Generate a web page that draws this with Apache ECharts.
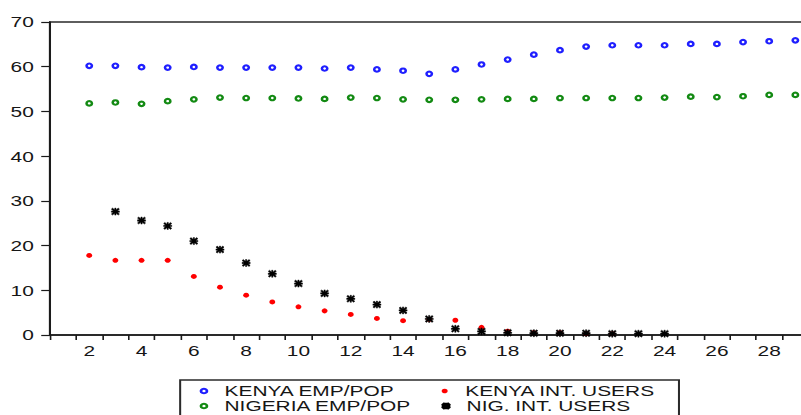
<!DOCTYPE html>
<html><head><meta charset="utf-8">
<script src="https://cdn.jsdelivr.net/npm/echarts@6/dist/echarts.min.js"></script>
<style>
html,body{margin:0;padding:0;background:#fff;overflow:hidden;width:801px;height:415px}
#wrap{width:801px;height:415px;overflow:hidden;position:relative}
#chart{width:594px;height:415px;transform:scaleX(1.3485);transform-origin:0 0}
</style></head><body><div id="wrap"><div id="chart"></div></div>
<script>
const categories = ['1','2','3','4','5','6','7','8','9','10','11','12','13','14','15','16','17','18','19','20','21','22','23','24','25','26','27','28','29'];
const yTicks = [0, 10, 20, 30, 40, 50, 60, 70];
const seriesNames = ['KENYA EMP/POP', 'NIGERIA EMP/POP', 'KENYA INT. USERS', 'NIG. INT. USERS'];
const kenyaEmpPop = [null, 60.2, 60.2, 59.9, 59.8, 59.95, 59.8, 59.8, 59.8, 59.8, 59.6, 59.8, 59.4, 59.1, 58.4, 59.4, 60.5, 61.6, 62.7, 63.7, 64.5, 64.8, 64.8, 64.8, 65.1, 65.1, 65.5, 65.7, 65.9];
const nigeriaEmpPop = [null, 51.8, 52.0, 51.7, 52.3, 52.7, 53.1, 53.0, 53.0, 52.9, 52.8, 53.1, 53.0, 52.7, 52.6, 52.6, 52.7, 52.8, 52.8, 53.0, 53.0, 53.0, 53.0, 53.1, 53.3, 53.2, 53.4, 53.7, 53.7];
const kenyaIntUsers = [null, 17.8, 16.7, 16.7, 16.7, 13.1, 10.7, 8.9, 7.4, 6.3, 5.4, 4.6, 3.7, 3.2, 3.5, 3.3, 1.7, 0.85, 0.5, 0.5, 0.3, 0.3, null, null, null, null, null, null, null];
const nigIntUsers = [null, null, 27.6, 25.6, 24.4, 21.0, 19.1, 16.1, 13.7, 11.5, 9.3, 8.1, 6.8, 5.5, 3.6, 1.4, 0.8, 0.5, 0.4, 0.4, 0.4, 0.3, 0.3, 0.3, null, null, null, null, null];

const FONT = '"Liberation Sans", Arial, sans-serif';
const TXT = '#161616';
const asterisk = 'path://M0,4L10,4L10,6L0,6Z M0,1.5L1.5,0L10,8.5L8.5,10Z M8.5,0L10,1.5L1.5,10L0,8.5Z M4.2,0L5.8,0L5.8,10L4.2,10Z';

const styles = [
  {color: '#1f1fff', symbol: 'emptyCircle', size: [4, 4.5], border: 1.2},
  {color: '#138a13', symbol: 'emptyCircle', size: [4, 4.5], border: 1.3},
  {color: '#ff0000', symbol: 'circle', size: [4.4, 5], border: 0},
  {color: '#000000', symbol: asterisk, size: [6, 7], border: 0.4}
];
const dataSets = [kenyaEmpPop, nigeriaEmpPop, kenyaIntUsers, nigIntUsers];

function legendFor(i, left, top) {
  return {
    show: true, left: left, top: top, padding: 0, orient: 'horizontal',
    itemWidth: 4.5, itemHeight: 4.5, itemGap: 0, selectedMode: false,
    data: [{name: seriesNames[i], icon: styles[i].symbol}],
    textStyle: {fontFamily: FONT, fontSize: 15.5, lineHeight: 14, color: TXT, padding: [0, 0, 0, 8]}
  };
}

const chart = echarts.init(document.getElementById('chart'), null, {renderer: 'svg'});
chart.setOption({
  animation: false,
  backgroundColor: '#fff',
  grid: {left: 37.08, top: 22, right: -5.5, bottom: 80, outerBoundsMode: 'none', containLabel: false,
         show: true, borderColor: '#2a2a2a', borderWidth: 1.5, backgroundColor: 'transparent'},
  xAxis: {
    type: 'category', data: categories, boundaryGap: true,
    axisLine: {lineStyle: {color: '#1a1a1a', width: 1.5}},
    axisTick: {show: true, inside: false, length: 5, interval: 0, lineStyle: {color: '#1a1a1a', width: 1.2}},
    axisLabel: {interval: function (idx) { return idx % 2 === 1; }, margin: 8, fontFamily: FONT, fontSize: 15.5, color: TXT},
    splitLine: {show: false}
  },
  yAxis: {
    type: 'value', min: yTicks[0], max: yTicks[yTicks.length - 1], interval: 10,
    axisLine: {show: true, lineStyle: {color: '#1a1a1a', width: 1.5}},
    axisTick: {show: true, inside: false, length: 6.5, lineStyle: {color: '#1a1a1a', width: 1.2}},
    axisLabel: {margin: 12, fontFamily: FONT, fontSize: 15.5, color: TXT},
    splitLine: {show: false}
  },
  legend: [
    legendFor(0, 148, 383),
    legendFor(2, 327.5, 383),
    legendFor(1, 148, 398),
    legendFor(3, 327.5, 398)
  ],
  graphic: [{
    type: 'rect', shape: {x: 133.6, y: 380, width: 369.9, height: 60},
    style: {fill: 'none', stroke: '#2a2a2a', lineWidth: 1.5}, silent: true, z: -1
  }],
  series: dataSets.map(function (d, i) {
    return {
      type: 'scatter', name: seriesNames[i], data: d,
      symbol: styles[i].symbol, symbolSize: styles[i].size,
      itemStyle: {color: styles[i].color, borderColor: styles[i].color, borderWidth: styles[i].border, opacity: 1},
      z: 2 + i
    };
  })
});
</script></body></html>
